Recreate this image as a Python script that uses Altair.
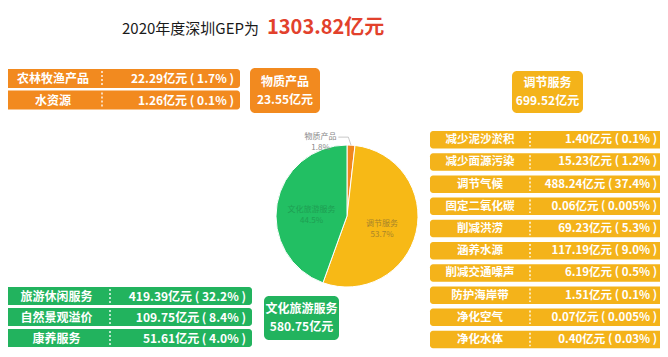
import math
import altair as alt
import pandas as pd

# ---------------- data ----------------
TITLE_PREFIX = "2020年度深圳GEP为"
TOTAL_GEP = 1303.82

GROUP_NAMES = ["物质产品", "调节服务", "文化旅游服务"]
GROUP_TOTALS = [23.55, 699.52, 580.75]
GROUP_SHARES = [1.8, 53.7, 44.5]

MATERIAL_ITEMS = ["农林牧渔产品", "水资源"]
MATERIAL_VALUES = [22.29, 1.26]
MATERIAL_PCTS = ["1.7%", "0.1%"]

REG_ITEMS = ["减少泥沙淤积", "减少面源污染", "调节气候", "固定二氧化碳", "削减洪涝",
             "涵养水源", "削减交通噪声", "防护海岸带", "净化空气", "净化水体"]
REG_VALUES = [1.40, 15.23, 488.24, 0.06, 69.23, 117.19, 6.19, 1.51, 0.07, 0.40]
REG_PCTS = ["0.1%", "1.2%", "37.4%", "0.005%", "5.3%", "9.0%", "0.5%", "0.1%", "0.005%", "0.03%"]

CULT_ITEMS = ["旅游休闲服务", "自然景观溢价", "康养服务"]
CULT_VALUES = [419.39, 109.75, 51.61]
CULT_PCTS = ["32.2%", "8.4%", "4.0%"]

# ---------------- style / layout ----------------
FONT = "Noto Sans CJK SC"
ORANGE = "#F28A1F"
YELLOW = "#F4B31A"
GREEN = "#22B35E"
PIE_COLORS = ["#F0861E", "#F7B916", "#22BF63"]
LABEL_COLORS = ["#888888", "#A8842A", "#1E9E52"]

W, H = 652, 341
XS = alt.Scale(domain=[8, 8 + W], nice=False, zero=False)
YS = alt.Scale(domain=[8, 8 + H], nice=False, zero=False, reverse=True)

TABLES = [
    # items, values, pcts, x0, x1, sep, top, pitch, h, color, fontsize
    (MATERIAL_ITEMS, MATERIAL_VALUES, MATERIAL_PCTS, 4, 240, 102, 69, 21.5, 19, ORANGE, 12),
    (REG_ITEMS, REG_VALUES, REG_PCTS, 430, 663, 530, 131, 22.2, 17.5, YELLOW, 11.5),
    (CULT_ITEMS, CULT_VALUES, CULT_PCTS, 3, 252, 110, 287, 21, 18, GREEN, 12),
]
SUMMARY_BOXES = [
    # x0, x1, y0, y1, color
    (250, 320, 68, 113, ORANGE),
    (512, 583, 71, 113, YELLOW),
    (264, 339, 296, 340, GREEN),
]
PIE_CX, PIE_CY, PIE_R = 347, 216, 71

rects, seps, labels, values = [], [], [], []
for items, vals, pcts, x0, x1, sep, top, pitch, h, col, fs in TABLES:
    for i, (it, v, p) in enumerate(zip(items, vals, pcts)):
        y = top + i * pitch
        rects.append(dict(x=x0, x2=x1, y=y, y2=y + h, fill=col))
        seps.append(dict(x=sep, y=y + 2, y2=y + h - 2))
        labels.append(dict(x=(x0 + sep) / 2, y=y + h / 2 + 0.5, text=it, fs=fs))
        values.append(dict(x=x1 - 6, y=y + h / 2 + 0.5, text=f"{v:.2f}亿元 ( {p} )", fs=fs))

boxes, box_text = [], []
for name, tot, (x0, x1, y0, y1, col) in zip(GROUP_NAMES, GROUP_TOTALS, SUMMARY_BOXES):
    boxes.append(dict(x=x0, x2=x1, y=y0, y2=y1, fill=col))
    cy = (y0 + y1) / 2
    box_text.append(dict(x=(x0 + x1) / 2, y=cy - 9, text=name))
    box_text.append(dict(x=(x0 + x1) / 2, y=cy + 9, text=f"{tot:.2f}亿元"))

X = lambda: alt.X("x:Q", scale=XS, axis=None)
Y = lambda: alt.Y("y:Q", scale=YS, axis=None)

rect_layer = alt.Chart(pd.DataFrame(rects)).mark_rect(cornerRadius=3).encode(
    x=X(), x2="x2:Q", y=Y(), y2="y2:Q", color=alt.Color("fill:N", scale=None))
box_layer = alt.Chart(pd.DataFrame(boxes)).mark_rect(cornerRadius=5).encode(
    x=X(), x2="x2:Q", y=Y(), y2="y2:Q", color=alt.Color("fill:N", scale=None))
sep_layer = alt.Chart(pd.DataFrame(seps)).mark_rule(
    color="white", strokeDash=[2, 2], strokeWidth=1.5, opacity=0.9).encode(
    x=X(), y=Y(), y2="y2:Q")
label_layer = alt.Chart(pd.DataFrame(labels)).mark_text(
    font=FONT, fontWeight="bold", color="white", align="center", baseline="middle").encode(
    x=X(), y=Y(), text="text:N", size=alt.Size("fs:Q", scale=None))
value_layer = alt.Chart(pd.DataFrame(values)).mark_text(
    font=FONT, fontWeight="bold", color="white", align="right", baseline="middle").encode(
    x=X(), y=Y(), text="text:N", size=alt.Size("fs:Q", scale=None))
box_text_layer = alt.Chart(pd.DataFrame(box_text)).mark_text(
    font=FONT, fontSize=12, fontWeight="bold", color="white", align="center", baseline="middle").encode(
    x=X(), y=Y(), text="text:N")

title_a = alt.Chart(pd.DataFrame([dict(x=259, y=29, text=TITLE_PREFIX)])).mark_text(
    font=FONT, fontSize=15, color="#1a1a1a", align="right", baseline="middle").encode(
    x=X(), y=Y(), text="text:N")
title_b = alt.Chart(pd.DataFrame([dict(x=267, y=28, text=f"{TOTAL_GEP:.2f}亿元")])).mark_text(
    font=FONT, fontSize=20, fontWeight="bold", color="#E2412C", align="left", baseline="middle").encode(
    x=X(), y=Y(), text="text:N")

# ---------------- pie ----------------
pie_df = pd.DataFrame(dict(
    name=GROUP_NAMES, share=GROUP_SHARES, idx=list(range(len(GROUP_NAMES))),
    fill=PIE_COLORS, lcol=LABEL_COLORS,
    inner=["" if s < 5 else f"{n}\n{s}%" for n, s in zip(GROUP_NAMES, GROUP_SHARES)],
    outer=[f"{n}\n{s}%" if s < 5 else "" for n, s in zip(GROUP_NAMES, GROUP_SHARES)],
))
pos = dict(x=alt.value(PIE_CX - 8), y=alt.value(PIE_CY - 8))
arc = alt.Chart(pie_df).mark_arc(radius=PIE_R, stroke="white", strokeWidth=1).encode(
    theta=alt.Theta("share:Q", stack=True), order=alt.Order("idx:Q"),
    color=alt.Color("fill:N", scale=None), **pos)
inner_txt = alt.Chart(pie_df).mark_text(
    radius=36, font=FONT, fontSize=8, lineBreak="\n", lineHeight=11, baseline="middle").encode(
    theta=alt.Theta("share:Q", stack=True), order=alt.Order("idx:Q"),
    text="inner:N", color=alt.Color("lcol:N", scale=None), **pos)
outer_txt = alt.Chart(pie_df).mark_text(
    radius=80, dx=-31, dy=1, font=FONT, fontSize=8, lineBreak="\n", lineHeight=11,
    baseline="middle", color="#888888").encode(
    theta=alt.Theta("share:Q", stack=True), order=alt.Order("idx:Q"),
    text="outer:N", **pos)

# leader line for the small slice
mid = GROUP_SHARES[0] / 2 / sum(GROUP_SHARES) * 2 * math.pi
p_edge = (PIE_CX + PIE_R * math.sin(mid), PIE_CY - PIE_R * math.cos(mid))
p_elb = (PIE_CX + (PIE_R + 6) * math.sin(mid) - 3, PIE_CY - (PIE_R + 8) * math.cos(mid))
p_end = (p_elb[0] - 10, p_elb[1])
leader_df = pd.DataFrame([dict(x=p[0], y=p[1], k=i) for i, p in enumerate([p_edge, p_elb, p_end])])
leader = alt.Chart(leader_df).mark_line(color="#BBBBBB", strokeWidth=0.8).encode(
    x=X(), y=Y(), order="k:Q")

chart = alt.layer(
    rect_layer, sep_layer, label_layer, value_layer,
    box_layer, box_text_layer, title_a, title_b,
    arc, inner_txt, outer_txt, leader,
).properties(
    width=W, height=H, background="white", padding=0,
    autosize=alt.AutoSizeParams(type="none"),
).configure_view(stroke=None)

chart.save("out.html", embed_options={"renderer": "svg", "actions": False})
